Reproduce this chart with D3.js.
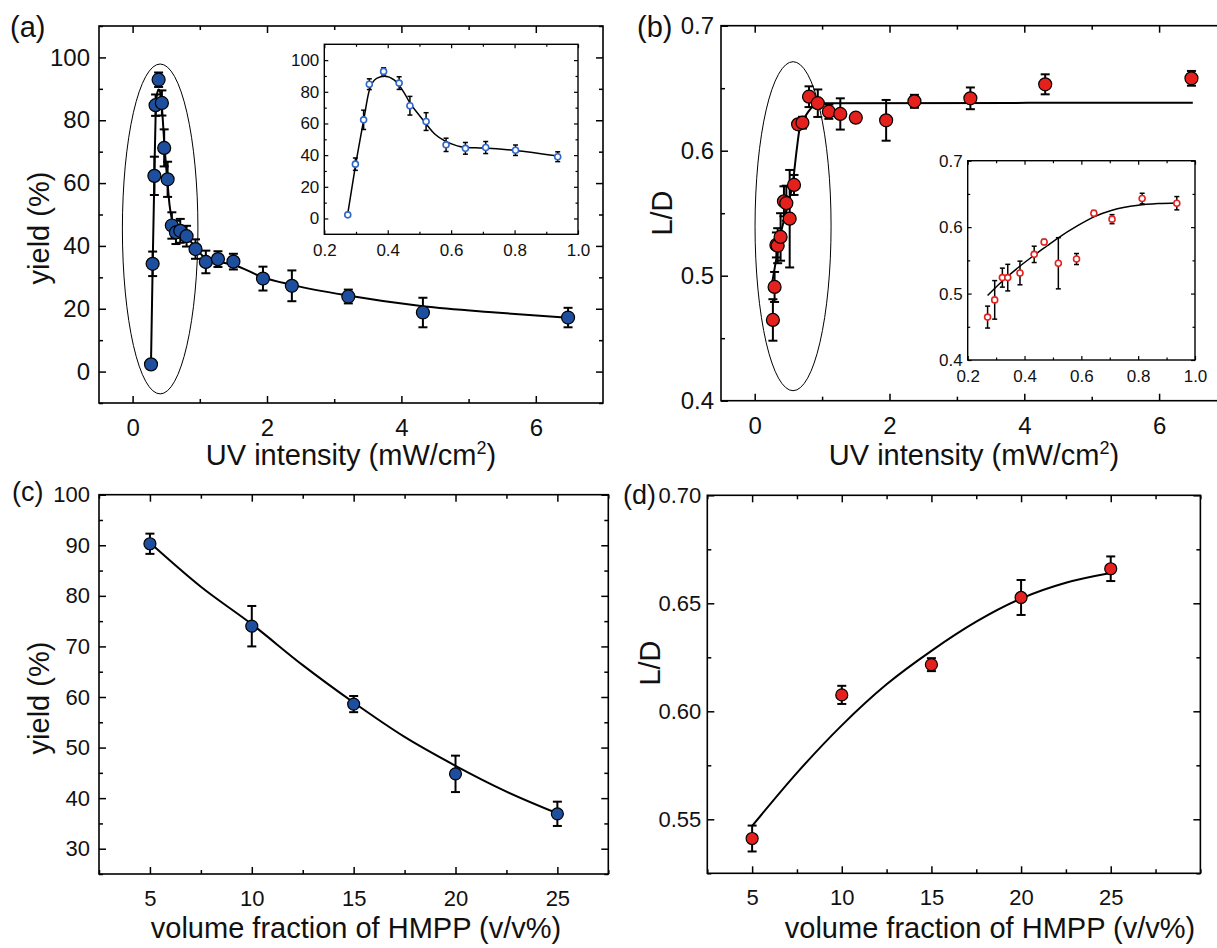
<!DOCTYPE html>
<html><head><meta charset="utf-8">
<script src="https://cdnjs.cloudflare.com/ajax/libs/d3/7.8.5/d3.min.js"></script>
<style>
body{margin:0;background:#fff;}
svg{display:block;}
</style></head><body>
<svg id="chart" width="1217" height="948"></svg>
<script>
// ---------------- DATA ----------------
// Panel (a): yield vs UV intensity (main plot; first 13 points also shown in the inset)
const uvA = [0.274,0.298,0.324,0.342,0.387,0.436,0.470,0.521,0.584,0.645,0.709,0.803,0.936,1.09,1.27,1.50,1.94,2.37,3.21,4.32,6.48];
const yieldA = [2.3,34.3,62.3,84.8,92.9,85.5,71.2,61.2,46.5,44.3,44.8,43.1,39.0,34.9,35.8,35.0,29.6,27.3,23.9,18.8,17.2];
const yieldAErr = [0.6,3.9,6.1,3.4,2.3,4.0,5.9,5.6,4.2,3.7,3.8,3.3,3.1,3.6,2.5,2.5,3.8,4.9,2.2,4.7,3.1];
const insetACount = 13;
// fitted curve (a)
const fitAx = [0.274,0.298,0.324,0.342,0.365,0.39,0.42,0.45,0.47,0.50,0.52,0.55,0.58,0.61,0.64,0.70,0.80,0.936,1.09,1.27,1.50,1.94,2.37,3.20,4.32,5.40,6.48];
const fitAy = [3,33,62,81,88.5,89.8,87.5,80,73,65,60,53,49,46.5,45,44.5,43,39.5,36,35,34,30,27.6,24.2,20.8,18.8,17.1];
// ellipse annotation (a): centre x, centre y, radius x, radius y (data units)
const ellipseA = [0.41, 45.4, 0.562, 52.5];

// Panel (b): L/D vs UV intensity
const uvB = [0.270,0.295,0.322,0.341,0.384,0.434,0.469,0.519,0.583,0.644,0.708,0.806,0.936,1.10,1.27,1.50,1.95,2.37,3.20,4.31,6.48];
const ldB = [0.4646,0.491,0.5246,0.524,0.531,0.5595,0.558,0.5456,0.5726,0.6211,0.6224,0.6432,0.638,0.6312,0.6294,0.6264,0.6243,0.6395,0.6419,0.6531,0.6579];
const ldBErr = [0.0166,0.012,0.010,0.014,0.019,0.012,0.014,0.039,0.008,0.0036,0.0047,0.0083,0.011,0.0057,0.0125,0.003,0.0163,0.0052,0.0087,0.008,0.0059];
const fitBx = [0.257,0.326,0.376,0.435,0.499,0.564,0.623,0.663,0.722,0.796,0.871,0.97,6.5];
const fitBy = [0.4939,0.5152,0.5312,0.5446,0.5579,0.5739,0.6006,0.6166,0.6246,0.6312,0.6358,0.6379,0.6384];
const ellipseB = [0.569, 0.5396, 0.564, 0.1316];
// inset (b)
const uvBIn = [0.270,0.295,0.322,0.341,0.384,0.434,0.469,0.519,0.583,0.644,0.708,0.814,0.936];
const ldBIn = [0.4646,0.4905,0.524,0.524,0.531,0.559,0.5777,0.5456,0.552,0.621,0.612,0.643,0.636];
const ldBInErr = [0.0165,0.029,0.0143,0.02,0.0178,0.0123,0.0038,0.0385,0.0083,0.004,0.0068,0.008,0.01];
const fitBInx = [0.27,0.325,0.38,0.434,0.48,0.519,0.584,0.644,0.708,0.80,0.87,0.936];
const fitBIny = [0.497,0.52,0.540,0.5577,0.572,0.584,0.6015,0.6155,0.6255,0.633,0.6355,0.6365];

// Panel (c): yield vs HMPP fraction
const hmpp = [5,10,15,20,25];
const yieldC = [90.3,74.0,58.6,44.8,36.9];
const yieldCErr = [2.0,4.0,1.6,3.6,2.4];
const fitCx = [5,7.5,10,12.5,15,17.5,20,22.5,25];
const fitCy = [90.5,81.8,74.4,66.3,58.9,52.1,46.4,41.3,37.0];

// Panel (d): L/D vs HMPP fraction
const ldD = [0.5411,0.6076,0.6216,0.6527,0.666];
const ldDErr = [0.006,0.0042,0.003,0.0081,0.0057];
const fitDx = [5,7.5,10,12.5,15,17.5,20,22.5,25];
const fitDy = [0.5469,0.5715,0.5935,0.6125,0.628,0.6415,0.6522,0.6595,0.664];

// tick values
const ticksUV = [0,2,4,6], minorUV = [1,3,5];
const ticksYieldA = [0,20,40,60,80,100], minorYieldA = [-10,10,30,50,70,90,110];
const ticksLD = [0.4,0.5,0.6,0.7], minorLD = [0.45,0.55,0.65];
const ticksInX = [0.2,0.4,0.6,0.8,1.0], minorInX = [0.3,0.5,0.7,0.9];
const ticksHMPP = [5,10,15,20,25], minorHMPP = [2.5,7.5,12.5,17.5,22.5,27.5,30];
const ticksYieldC = [30,40,50,60,70,80,90,100], minorYieldC = [25,35,45,55,65,75,85,95];
const ticksLDD = [0.55,0.60,0.65,0.70], minorLDD = [0.525,0.575,0.625,0.675];

// ---------------- DRAWING ----------------
const FONT = '"Liberation Sans", Arial, Helvetica, sans-serif';
const BLUE = "#1d4f9e", BLUE_IN = "#2f68c6", RED = "#e4211c";
const svg = d3.select("#chart").style("font-family", FONT);

function frameAxes(g, x, y, o) {
  const [l, r] = x.range(), [b, t] = y.range();
  if (o.bg) g.append("rect").attr("x", l).attr("y", t).attr("width", r - l).attr("height", b - t).attr("fill", "#fff");
  const add = (gen, tr) => {
    const a = g.append("g").attr("transform", tr).call(gen);
    a.select(".domain").remove();
    a.selectAll("line").attr("stroke", "#000").attr("stroke-width", o.tickW);
    a.selectAll("text").attr("font-size", o.font).attr("font-family", FONT).attr("fill", "#111");
    return a;
  };
  add(d3.axisBottom(x).tickValues(o.xt).tickFormat(o.xf).tickSizeInner(-o.maj).tickSizeOuter(0).tickPadding(o.xp), `translate(0,${b})`);
  add(d3.axisBottom(x).tickValues(o.xm).tickFormat("").tickSizeInner(-o.min).tickSizeOuter(0), `translate(0,${b})`);
  add(d3.axisTop(x).tickValues(o.xt).tickFormat("").tickSizeInner(-o.maj).tickSizeOuter(0), `translate(0,${t})`);
  add(d3.axisTop(x).tickValues(o.xm).tickFormat("").tickSizeInner(-o.min).tickSizeOuter(0), `translate(0,${t})`);
  add(d3.axisLeft(y).tickValues(o.yt).tickFormat(o.yf).tickSizeInner(-o.maj).tickSizeOuter(0).tickPadding(o.yp), `translate(${l},0)`);
  add(d3.axisLeft(y).tickValues(o.ym).tickFormat("").tickSizeInner(-o.min).tickSizeOuter(0), `translate(${l},0)`);
  add(d3.axisRight(y).tickValues(o.yt).tickFormat("").tickSizeInner(-o.maj).tickSizeOuter(0), `translate(${r},0)`);
  add(d3.axisRight(y).tickValues(o.ym).tickFormat("").tickSizeInner(-o.min).tickSizeOuter(0), `translate(${r},0)`);
  g.append("rect").attr("x", l).attr("y", t).attr("width", r - l).attr("height", b - t)
    .attr("fill", "none").attr("stroke", "#000").attr("stroke-width", o.frameW);
}

function series(g, x, y, xs, ys, es, s) {
  const eb = g.append("g").attr("stroke", "#000").attr("stroke-width", s.ebW);
  xs.forEach((xv, i) => {
    const cx = x(xv), y1 = y(ys[i] - es[i]), y2 = y(ys[i] + es[i]);
    eb.append("line").attr("x1", cx).attr("x2", cx).attr("y1", y1).attr("y2", y2);
    eb.append("line").attr("x1", cx - s.cap).attr("x2", cx + s.cap).attr("y1", y1).attr("y2", y1);
    eb.append("line").attr("x1", cx - s.cap).attr("x2", cx + s.cap).attr("y1", y2).attr("y2", y2);
  });
  g.append("g").selectAll("circle").data(xs).join("circle")
    .attr("cx", d => x(d)).attr("cy", (d, i) => y(ys[i])).attr("r", s.r)
    .attr("fill", s.fill).attr("stroke", s.stroke).attr("stroke-width", s.sw);
}

function fitLine(g, x, y, fx, fy, w) {
  g.append("path").datum(fx.map((v, i) => [v, fy[i]]))
    .attr("d", d3.line().x(d => x(d[0])).y(d => y(d[1])).curve(d3.curveMonotoneX))
    .attr("fill", "none").attr("stroke", "#000").attr("stroke-width", w);
}

function ellipse(g, x, y, e) {
  g.append("ellipse").attr("cx", x(e[0])).attr("cy", y(e[1]))
    .attr("rx", x(e[0] + e[2]) - x(e[0])).attr("ry", y(e[1] - e[3]) - y(e[1]))
    .attr("fill", "none").attr("stroke", "#000").attr("stroke-width", 1);
}

function text(g, str, xp, yp, size, opts = {}) {
  const t = g.append("text").attr("x", xp).attr("y", yp).attr("font-size", size)
    .attr("font-family", FONT).attr("fill", "#111").attr("text-anchor", opts.anchor || "start");
  if (opts.rot) t.attr("transform", `rotate(-90,${xp},${yp})`);
  t.text(str);
  return t;
}
function uvTitle(g, cx, by) {
  const t = g.append("text").attr("x", cx).attr("y", by).attr("font-size", 29)
    .attr("font-family", FONT).attr("fill", "#111").attr("text-anchor", "middle");
  t.append("tspan").text("UV intensity (mW/cm");
  t.append("tspan").attr("font-size", 18).attr("dy", -11).text("2");
  t.append("tspan").attr("dy", 11).text(")");
}

const mainAx = { maj: 7, min: 4, tickW: 1.5, frameW: 1.6, font: 24, xp: 16, yp: 9 };
const inAx = { maj: 4, min: 2.5, tickW: 1.2, frameW: 1.4, font: 17, xp: 10, yp: 5, bg: true };
const mainS = { r: 6.5, fill: BLUE, stroke: "#000", sw: 1.2, ebW: 2, cap: 4.5 };
const inS = { r: 3, fill: "#fff", stroke: BLUE_IN, sw: 1.6, ebW: 1.5, cap: 2.5 };

// ---- Panel (a)
{
  const g = svg.append("g");
  const x = d3.scaleLinear().domain([-0.5, 7]).range([99, 603]);
  const y = d3.scaleLinear().domain([-10, 110]).range([403, 26]);
  frameAxes(g, x, y, Object.assign({}, mainAx, { xt: ticksUV, xm: minorUV, xf: d3.format("d"), yt: ticksYieldA, ym: minorYieldA, yf: d3.format("d") }));
  ellipse(g, x, y, ellipseA);
  fitLine(g, x, y, fitAx, fitAy, 2);
  series(g, x, y, uvA, yieldA, yieldAErr, mainS);
  text(g, "(a)", 10, 37, 29);
  text(g, "yield (%)", 49, 228, 29, { rot: true, anchor: "middle" });
  uvTitle(g, 351, 465);
  // inset
  const gi = svg.append("g");
  const xi = d3.scaleLinear().domain([0.2, 1.0]).range([324.3, 578]);
  const yi = d3.scaleLinear().domain([-10, 110]).range([234.3, 44.3]);
  frameAxes(gi, xi, yi, Object.assign({}, inAx, { xt: ticksInX, xm: minorInX, xf: d3.format(".1f"), yt: ticksYieldA, ym: minorYieldA.filter(v => v > -10 && v < 110), yf: d3.format("d") }));
  fitLine(gi, xi, yi, fitAx.slice(0, 18), fitAy.slice(0, 18), 1.5);
  series(gi, xi, yi, uvA.slice(0, insetACount), yieldA.slice(0, insetACount), yieldAErr.slice(0, insetACount), inS);
}

// ---- Panel (b)
{
  const g = svg.append("g");
  const x = d3.scaleLinear().domain([-0.5, 7]).range([721, 1226.5]);
  const y = d3.scaleLinear().domain([0.4, 0.7]).range([400.7, 25.7]);
  frameAxes(g, x, y, Object.assign({}, mainAx, { yp: 7, xt: ticksUV, xm: minorUV, xf: d3.format("d"), yt: ticksLD, ym: minorLD, yf: d3.format(".1f") }));
  ellipse(g, x, y, ellipseB);
  fitLine(g, x, y, fitBx, fitBy, 2);
  series(g, x, y, uvB, ldB, ldBErr, Object.assign({}, mainS, { fill: RED }));
  text(g, "(b)", 637, 37, 29);
  text(g, "L/D", 672, 213, 29, { rot: true, anchor: "middle" });
  uvTitle(g, 974, 465);
  const gi = svg.append("g");
  const xi = d3.scaleLinear().domain([0.2, 1.0]).range([967.7, 1195]);
  const yi = d3.scaleLinear().domain([0.4, 0.7]).range([360, 160.7]);
  frameAxes(gi, xi, yi, Object.assign({}, inAx, { xt: ticksInX, xm: minorInX, xf: d3.format(".1f"), yt: ticksLD, ym: minorLD, yf: d3.format(".1f") }));
  fitLine(gi, xi, yi, fitBInx, fitBIny, 1.5);
  series(gi, xi, yi, uvBIn, ldBIn, ldBInErr, Object.assign({}, inS, { stroke: RED }));
}

// ---- Panel (c)
{
  const g = svg.append("g");
  const x = d3.scaleLinear().domain([2.5, 27.5]).range([99, 608.3]);
  const y = d3.scaleLinear().domain([25, 100]).range([874, 494.7]);
  frameAxes(g, x, y, Object.assign({}, mainAx, { font: 22, xt: ticksHMPP, xm: minorHMPP.filter(v => v <= 27.5), xf: d3.format("d"), yt: ticksYieldC, ym: minorYieldC, yf: d3.format("d") }));
  fitLine(g, x, y, fitCx, fitCy, 2);
  series(g, x, y, hmpp, yieldC, yieldCErr, Object.assign({}, mainS, { r: 6 }));
  text(g, "(c)", 12, 501, 27);
  text(g, "yield (%)", 49, 698, 29, { rot: true, anchor: "middle" });
  text(g, "volume fraction of HMPP (v/v%)", 356, 938, 29, { anchor: "middle" });
}

// ---- Panel (d)
{
  const g = svg.append("g");
  const x = d3.scaleLinear().domain([2.5, 30]).range([707.3, 707.3 + 27.5 * 17.93]);
  const y = d3.scaleLinear().domain([0.525, 0.70]).range([873.3, 495.3]);
  frameAxes(g, x, y, Object.assign({}, mainAx, { font: 22, yp: 6, xt: ticksHMPP, xm: minorHMPP, xf: d3.format("d"), yt: ticksLDD, ym: minorLDD, yf: d3.format(".2f") }));
  fitLine(g, x, y, fitDx, fitDy, 2);
  series(g, x, y, hmpp, ldD, ldDErr, Object.assign({}, mainS, { r: 6, fill: RED }));
  text(g, "(d)", 623, 504, 27);
  text(g, "L/D", 660, 663, 29, { rot: true, anchor: "middle" });
  text(g, "volume fraction of HMPP (v/v%)", 990, 938, 29, { anchor: "middle" });
}
</script>
</body></html>
